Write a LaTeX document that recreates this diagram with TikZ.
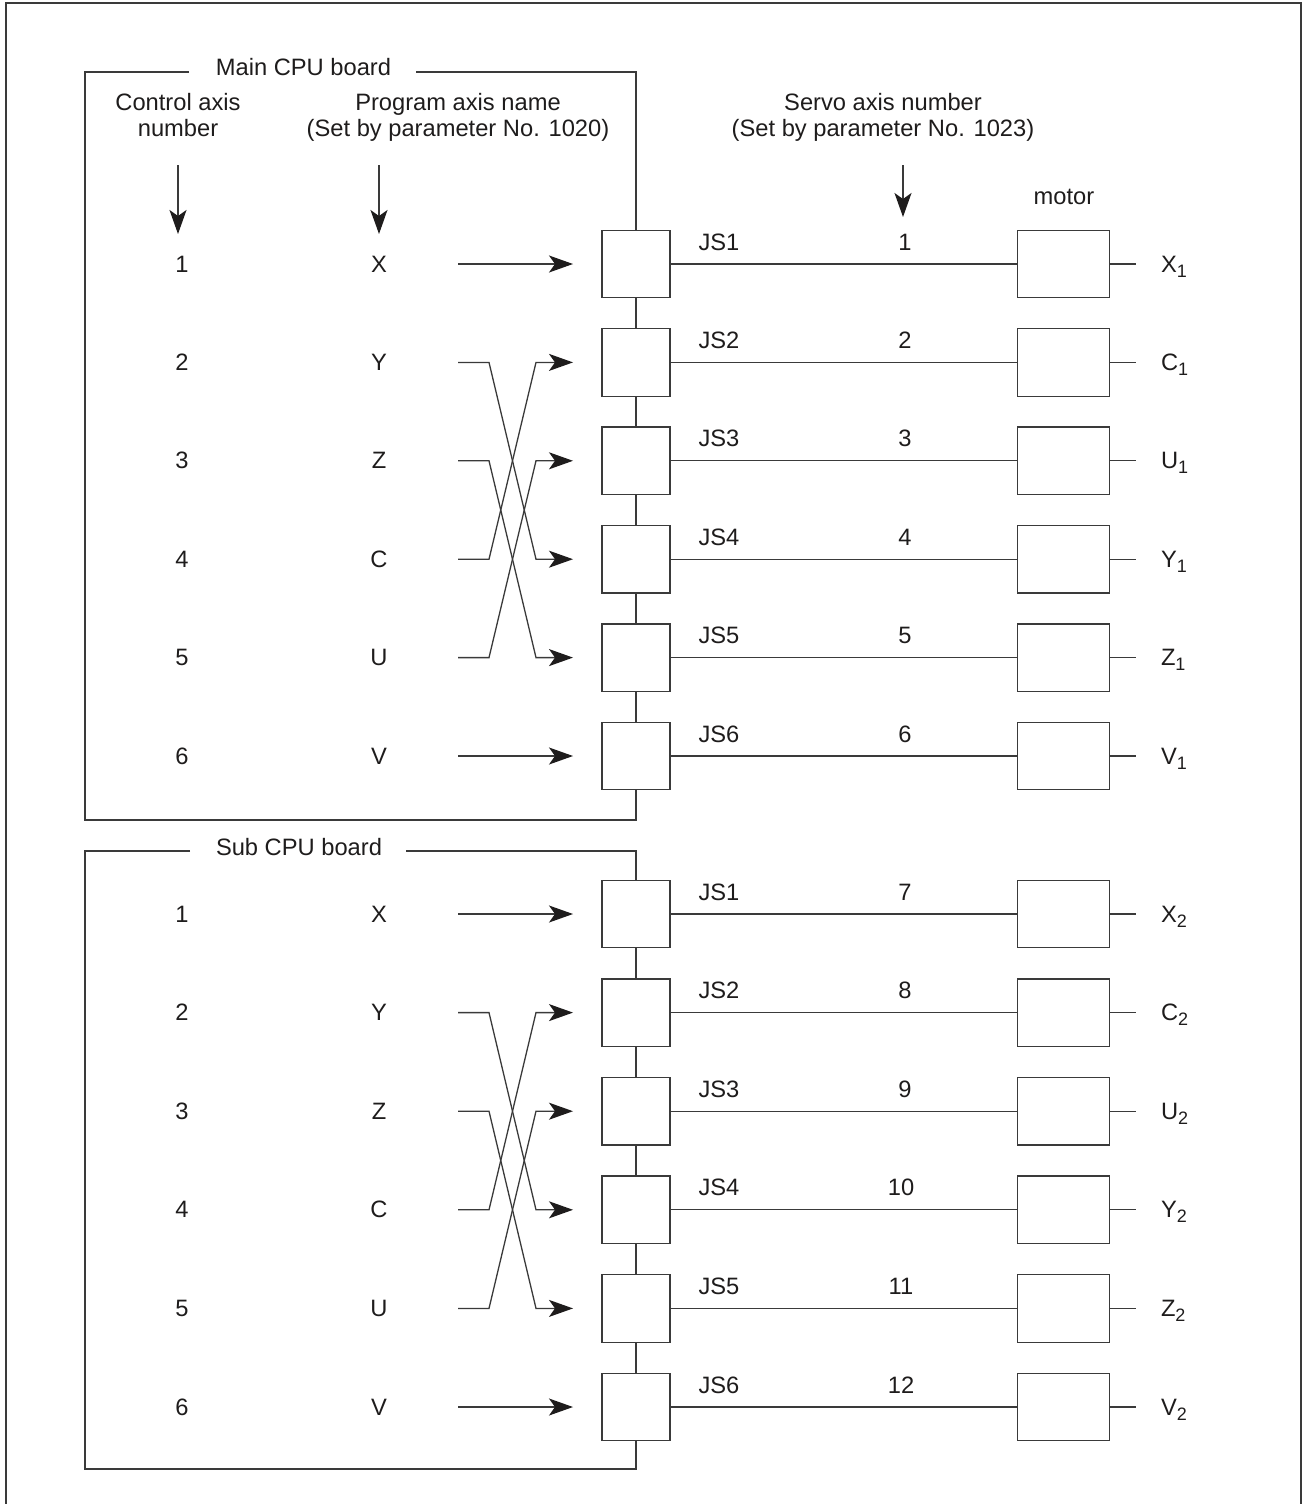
\documentclass[tikz,border=0pt]{standalone}
\usepackage{fontspec}
\setmainfont{Liberation Sans}
\usetikzlibrary{arrows.meta}
\definecolor{lc}{RGB}{58,58,58}
\definecolor{tc}{RGB}{30,28,28}
\newcommand\diagfont{\fontsize{23.7}{26}\selectfont}
\newcommand\subx[1]{\raisebox{-5pt}{\fontsize{18}{18}\selectfont #1}}
\begin{document}
\begin{tikzpicture}[x=1pt,y=-1pt,line width=1.3pt,
  conbox/.style={draw=lc,minimum width=68pt,minimum height=67.5pt,inner sep=0pt,outer sep=0pt},
  motbox/.style={draw=lc,minimum width=91.5pt,minimum height=67.5pt,inner sep=0pt,outer sep=0pt},
  txt/.style={font=\diagfont,inner sep=0pt,outer sep=0pt,text=tc},
  arr/.style={draw=lc,-{Stealth[length=24pt,width=17pt,inset=6pt,color=tc]}},
  wire/.style={draw=lc}]
\useasboundingbox (0,0) rectangle (1302,1504);
% outer frame
\draw[lc,line width=2.2pt] (6,1504) -- (6,3) -- (1301,3) -- (1301,1504);

% headers
\node[txt,anchor=base] (h1a) at (178,110) {Control axis};
\node[txt,anchor=base] (h1b) at (178,136) {number};
\node[txt,anchor=base] (h2a) at (458,110) {Program axis name};
\node[txt,anchor=base] (h2b) at (458,136) {(Set by parameter No. 1020)};
\node[txt,anchor=base] (h3a) at (883,110) {Servo axis number};
\node[txt,anchor=base] (h3b) at (883,136) {(Set by parameter No. 1023)};
\node[txt,anchor=base] (mot) at (1064,204) {motor};
\coordinate (d1s) at (178,165); \coordinate (d1e) at (178,234);
\coordinate (d2s) at (379,165); \coordinate (d2e) at (379,234);
\coordinate (d3s) at (903,165); \coordinate (d3e) at (903,217);
\draw[arr] (d1s) -- (d1e);
\draw[arr] (d2s) -- (d2e);
\draw[arr] (d3s) -- (d3e);

% ---------- main board ----------
\foreach \i/\y/\n/\ax/\mo in {1/264/1/X/X,2/362.4/2/Y/C,3/460.8/3/Z/U,4/559.2/4/C/Y,5/657.6/5/U/Z,6/756/6/V/V}{
  \node[conbox] (m\i) at (636,\y) {};
  \node[motbox] (mm\i) at (1063.5,\y) {};
  \draw[wire] (m\i.east) -- (mm\i.west);
  \coordinate (ms\i) at (1136,\y);
  \draw[wire] (mm\i.east) -- (ms\i);
  \node[txt,anchor=base] (mc\i) at (182,\y+8) {\i};
  \node[txt,anchor=base] (ma\i) at (379,\y+8) {\ax};
  \node[txt,anchor=base] (mjs\i) at (719,\y-14) {JS\i};
  \node[txt,anchor=base] (mn\i) at (905,\y-14) {\n};
  \node[txt,anchor=base west] (mo\i) at (1161,\y+8) {\mo\subx{1}};
  \coordinate (mst\i) at (458,\y);
  \coordinate (mb\i) at (489,\y);
  \coordinate (mk\i) at (536,\y);
  \coordinate (mt\i) at (573,\y);
}
\foreach \a/\b in {1/1,2/4,3/5,4/2,5/3,6/6}{
  \draw[arr] (mst\a) -- (mb\a) -- (mk\b) -- (mt\b);
}
\foreach \a/\b in {1/2,2/3,3/4,4/5,5/6}{
  \draw[wire] (m\a.south) -- (m\b.north);
}
\node[txt,anchor=base] (mtitle) at (303.5,76) {Main CPU board};
\draw[wire] (189,72) -- (85,72) -- (85,820) -- (636,820) -- (m6.south);
\draw[wire] (416,72) -- (636,72) -- (m1.north);

% ---------- sub board ----------
\foreach \i/\y/\n/\nx/\ax/\mo in {1/914/7/905/X/X,2/1012.6/8/905/Y/C,3/1111.2/9/905/Z/U,4/1209.8/10/901/C/Y,5/1308.4/11/901/U/Z,6/1407/12/901/V/V}{
  \node[conbox] (s\i) at (636,\y) {};
  \node[motbox] (sm\i) at (1063.5,\y) {};
  \draw[wire] (s\i.east) -- (sm\i.west);
  \coordinate (ss\i) at (1136,\y);
  \draw[wire] (sm\i.east) -- (ss\i);
  \node[txt,anchor=base] (sc\i) at (182,\y+8) {\i};
  \node[txt,anchor=base] (sa\i) at (379,\y+8) {\ax};
  \node[txt,anchor=base] (sjs\i) at (719,\y-14) {JS\i};
  \node[txt,anchor=base] (sn\i) at (\nx,\y-14) {\n};
  \node[txt,anchor=base west] (so\i) at (1161,\y+8) {\mo\subx{2}};
  \coordinate (sst\i) at (458,\y);
  \coordinate (sb\i) at (489,\y);
  \coordinate (sk\i) at (536,\y);
  \coordinate (stp\i) at (573,\y);
}
\foreach \a/\b in {1/1,2/4,3/5,4/2,5/3,6/6}{
  \draw[arr] (sst\a) -- (sb\a) -- (sk\b) -- (stp\b);
}
\foreach \a/\b in {1/2,2/3,3/4,4/5,5/6}{
  \draw[wire] (s\a.south) -- (s\b.north);
}
\node[txt,anchor=base] (stitle) at (299,855) {Sub CPU board};
\draw[wire] (190,851) -- (85,851) -- (85,1469) -- (636,1469) -- (s6.south);
\draw[wire] (406,851) -- (636,851) -- (s1.north);
\end{tikzpicture}
\end{document}
